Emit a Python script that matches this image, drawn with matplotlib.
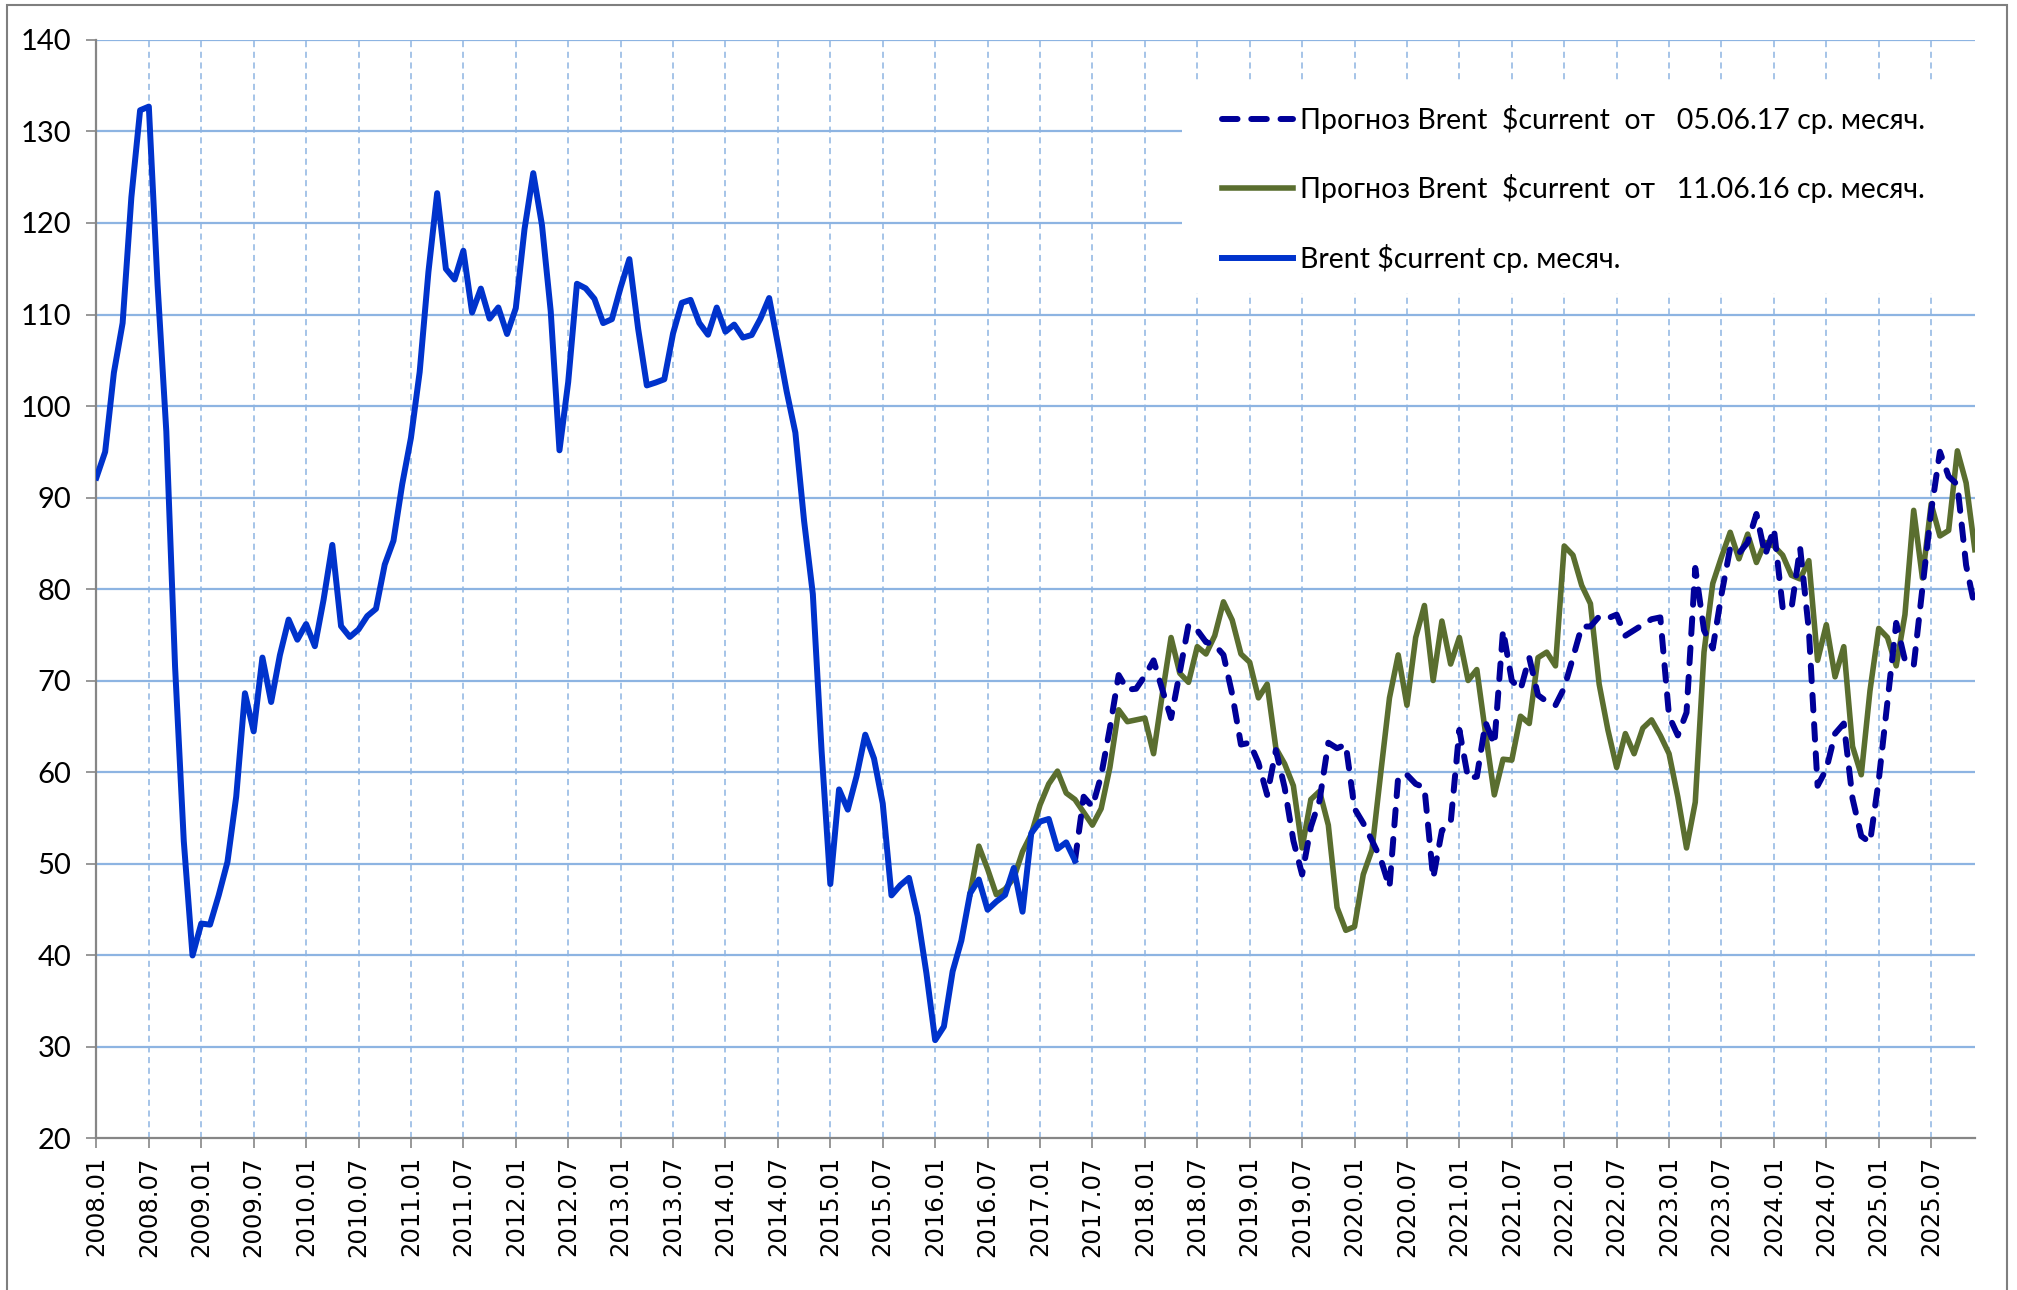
import numpy as np
import matplotlib
matplotlib.use("Agg")
import matplotlib.pyplot as plt
from matplotlib.patches import Rectangle

# monthly categories 2008.01 .. 2025.12
months = [f"{y}.{m:02d}" for y in range(2008, 2026) for m in range(1, 13)]

# Brent $current, monthly average, 2008.01 .. 2017.05
brent = [
    92.18, 94.99, 103.64, 109.07, 122.80, 132.32, 132.72, 113.24, 97.23, 71.58, 52.45, 39.95,
    43.44, 43.32, 46.54, 50.18, 57.30, 68.61, 64.44, 72.51, 67.65, 72.77, 76.66, 74.46,
    76.17, 73.75, 78.83, 84.82, 75.95, 74.76, 75.58, 77.04, 77.84, 82.67, 85.28, 91.45,
    96.52, 103.72, 114.64, 123.26, 114.99, 113.83, 116.97, 110.22, 112.83, 109.55, 110.77, 107.87,
    110.69, 119.33, 125.45, 119.75, 110.34, 95.16, 102.62, 113.36, 112.86, 111.71, 109.06, 109.49,
    112.96, 116.05, 108.47, 102.25, 102.56, 102.92, 107.93, 111.28, 111.60, 109.08, 107.79, 110.76,
    108.12, 108.90, 107.48, 107.76, 109.54, 111.80, 106.77, 101.61, 97.09, 87.43, 79.44, 62.34,
    47.76, 58.10, 55.89, 59.52, 64.08, 61.48, 56.56, 46.52, 47.62, 48.43, 44.27, 38.01,
    30.70, 32.18, 38.21, 41.58, 46.74, 48.25, 44.95, 45.84, 46.57, 49.52, 44.73, 53.31,
    54.58, 54.87, 51.59, 52.31, 50.33,
]
brent_start = "2008.01"

# forecast of 11.06.16, 2016.05 .. 2025.12
fc_2016 = [
    46.7, 51.9, 49.4, 46.6, 47.2, 48.4, 51.3, 53.2,
    56.4, 58.7, 60.1, 57.7, 57.0, 55.6, 54.2, 56.0, 60.5, 66.8, 65.5, 65.7,
    65.9, 62.0, 68.5, 74.7, 70.8, 69.8, 73.7, 72.9, 74.9, 78.6, 76.6, 72.9,
    72.0, 68.1, 69.6, 62.6, 60.9, 58.5, 51.7, 57.0, 57.9, 54.2, 45.2, 42.7,
    43.1, 48.8, 51.5, 59.9, 68.1, 72.8, 67.3, 74.7, 78.2, 70.0, 76.5, 71.8,
    74.7, 70.0, 71.2, 64.2, 57.5, 61.4, 61.3, 66.1, 65.3, 72.5, 73.1, 71.6,
    84.7, 83.7, 80.4, 78.4, 69.6, 64.6, 60.5, 64.2, 62.0, 64.8, 65.7, 64.0,
    62.0, 57.3, 51.7, 56.7, 73.1, 80.6, 83.5, 86.2, 83.3, 86.0, 82.9, 85.1,
    84.7, 83.7, 81.5, 81.1, 83.1, 72.2, 76.1, 70.4, 73.7, 62.8, 59.7, 68.9,
    75.7, 74.7, 71.6, 77.2, 88.6, 81.2, 89.3, 85.8, 86.4, 95.1, 91.6, 84.3,
]
fc_2016_start = "2016.05"

# forecast of 05.06.17, 2017.05 .. 2025.12
fc_2017 = [
    50.3, 57.3, 56.2, 59.6, 64.8, 70.6, 69.0, 69.1,
    70.5, 72.2, 69.0, 65.9, 70.9, 76.1, 75.5, 74.2, 73.9, 72.8, 68.5, 63.0,
    63.2, 61.0, 57.5, 62.4, 58.3, 52.5, 48.8, 54.0, 56.9, 63.2, 62.6, 63.0,
    56.0, 54.4, 52.5, 50.5, 47.4, 59.5, 59.7, 58.7, 58.3, 48.4, 53.6, 54.4,
    64.6, 59.3, 59.5, 65.4, 63.0, 75.5, 70.0, 69.0, 72.5, 68.4, 67.7, 67.3,
    69.2, 72.5, 75.9, 75.9, 77.0, 76.8, 77.2, 74.9, 75.5, 76.1, 76.7, 76.9,
    66.1, 64.0, 66.5, 82.3, 75.5, 73.5, 79.4, 84.5, 83.9, 85.1, 88.2, 83.7,
    86.6, 78.0, 77.8, 84.5, 75.5, 58.5, 60.3, 64.2, 65.3, 57.1, 53.0, 52.3,
    59.1, 67.7, 76.3, 72.2, 71.6, 80.1, 88.5, 95.0, 92.3, 91.4, 82.6, 78.0,
]
fc_2017_start = "2017.05"

labels = [
    "Прогноз Brent  $current  от   05.06.17 ср. месяч.",
    "Прогноз Brent  $current  от   11.06.16 ср. месяч.",
    "Brent $current ср. месяч.",
]

grid_col = "#8DB4E2"
axis_col = "#868686"

plt.rcParams["font.family"] = ["Lato", "DejaVu Sans"]

fig = plt.figure(figsize=(20.17, 12.90), dpi=100)
ax = fig.add_axes([0.0478, 0.1178, 0.9313, 0.8512])


def xs(start, values):
    i0 = months.index(start)
    return np.arange(i0, i0 + len(values))


l_green, = ax.plot(xs(fc_2016_start, fc_2016), fc_2016, color="#5A6E2F",
                   lw=4.0, zorder=3)
l_dash, = ax.plot(xs(fc_2017_start, fc_2017), fc_2017, color="#000099",
                  lw=4.3, zorder=4, dashes=(2.6, 2.3), dash_capstyle="round")
l_blue, = ax.plot(xs(brent_start, brent), brent, color="#0033CC",
                  lw=4.3, zorder=5)

ax.set_xlim(0, len(months) - 1)
ax.set_ylim(20, 140)

tick_pos = np.arange(0, len(months), 6)
ax.set_xticks(tick_pos)
ax.set_xticklabels([months[i] for i in tick_pos], rotation=90,
                   family="DejaVu Sans", fontsize=17.5)
ax.set_yticks(np.arange(20, 141, 10))
ax.tick_params(axis="y", labelsize=21, length=7, width=1.2, color=axis_col, pad=11)
ax.tick_params(axis="x", length=7, width=1.2, color=axis_col, pad=6)

# grid: solid horizontal, dashed vertical
ax.set_axisbelow(True)
for v in np.arange(30, 141, 10):
    ax.axhline(v, color=grid_col, lw=1.6, zorder=0.5)
for p in tick_pos[1:]:
    ax.axvline(p, color=grid_col, lw=1.1, dashes=(4, 3), zorder=0.5)

for s in ["top", "right"]:
    ax.spines[s].set_visible(False)
for s in ["left", "bottom"]:
    ax.spines[s].set_color(axis_col)
    ax.spines[s].set_linewidth(1.6)

# white area behind the legend hides the grid
ax.add_patch(Rectangle((0.578, 0.770), 0.43, 0.192, transform=ax.transAxes,
                       facecolor="white", edgecolor="none", zorder=1, clip_on=False))
ax.legend([l_dash, l_green, l_blue], labels, loc="upper left",
          bbox_to_anchor=(0.599, 0.941), frameon=False, fontsize=20.5,
          handlelength=2.5, handletextpad=0.25, labelspacing=1.42,
          borderpad=0, borderaxespad=0)

# chart-area border
fig.add_artist(Rectangle((0.0035, -0.02), 0.9915, 1.016, transform=fig.transFigure,
                         facecolor="none", edgecolor="#7F7F7F", lw=1.5))

fig.savefig("out.png", dpi=100)
